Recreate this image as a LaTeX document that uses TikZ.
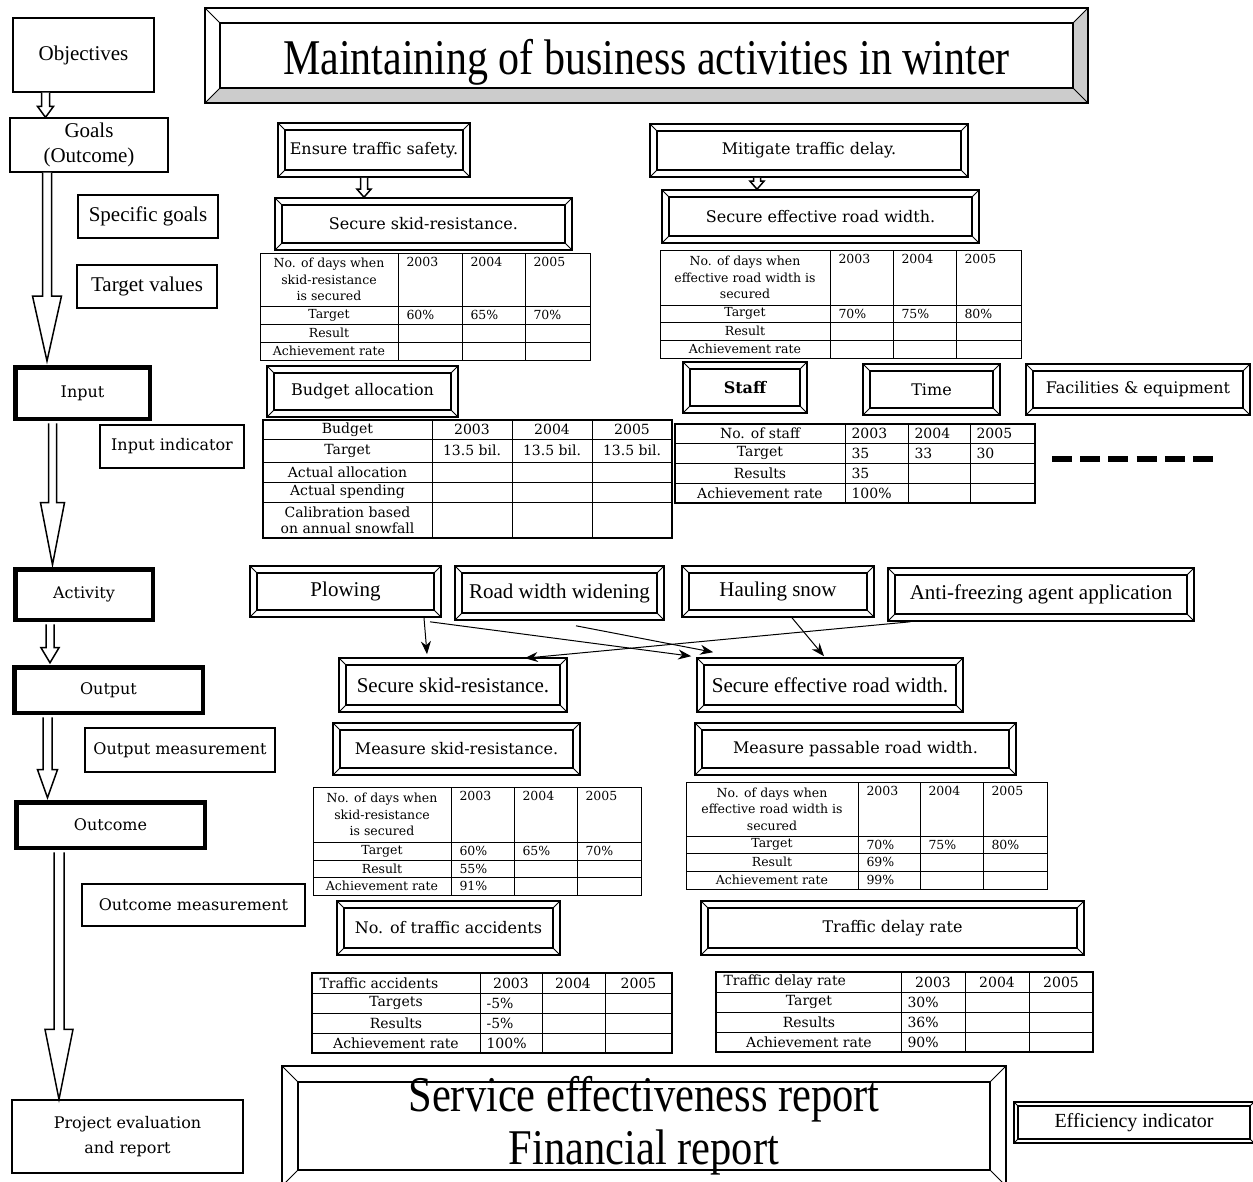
\documentclass[tikz,border=0pt]{standalone}
\usepackage{fontspec}
\setmainfont{Liberation Serif}
\newfontfamily\cent{DejaVu Serif}
\usetikzlibrary{arrows.meta, calc}

\newcommand\tms{\fontsize{21}{25}\selectfont}
\newcommand\cen{\cent\fontsize{16}{25}\selectfont}
\newcommand\tabA{\cent\fontsize{12.5}{16.5}\selectfont}
\newcommand\tabB{\cent\fontsize{14}{16}\selectfont}
\newcommand\bigtitle{\fontsize{50}{50}\selectfont}

% hollow arrow: from, to, shaft half width, head half width, head length
\newcommand\hollowarrow[5]{%
  \draw[line width=1.5pt, fill=white] let \p1=(#1), \p2=(#2) in
    (\x1-#3,\y1) -- (\x1-#3,\y2+#5) -- (\x1-#4,\y2+#5) -- (\x1,\y2)
    -- (\x1+#4,\y2+#5) -- (\x1+#3,\y2+#5) -- (\x1+#3,\y1);}

\tikzset{
  bev/.store in=\bevw, bev=7pt,
  bevfill/.store in=\bevcol, bevfill=white,
  plainbox/.style={draw, line width=1.3pt, inner sep=0pt, align=center},
  thickbox/.style={draw, line width=4.5pt, inner sep=0pt, align=center},
  btn/.style={draw, line width=1.6pt, inner sep=0pt, align=center,
    path picture={
      \path (path picture bounding box.north west) coordinate (pNW)
            (path picture bounding box.north east) coordinate (pNE)
            (path picture bounding box.south west) coordinate (pSW)
            (path picture bounding box.south east) coordinate (pSE);
      \fill[\bevcol] (pSW) -- ([shift={(\bevw,\bevw)}]pSW) -- ([shift={(-\bevw,\bevw)}]pSE)
        -- ([shift={(-\bevw,-\bevw)}]pNE) -- (pNE) -- (pSE) -- cycle;
      \draw[line width=1.2pt] ([shift={(\bevw,-\bevw)}]pNW) rectangle ([shift={(-\bevw,\bevw)}]pSE);
      \draw[line width=0.8pt] (pNW) -- ([shift={(\bevw,-\bevw)}]pNW)
        (pNE) -- ([shift={(-\bevw,-\bevw)}]pNE)
        (pSW) -- ([shift={(\bevw,\bevw)}]pSW)
        (pSE) -- ([shift={(-\bevw,\bevw)}]pSE);
    }},
  link/.style={line width=1pt, -{Stealth[length=13pt, width=10pt]}},
  grid/.style={line width=0.9pt}
}

\begin{document}
\begin{tikzpicture}[x=1pt, y=-1pt]
\useasboundingbox (0,0) rectangle (1253,1181);

% title
\node[btn, bev=15pt, bevfill=gray!40, minimum width=883pt, minimum height=95pt] (title) at (646.5,55.5)
  {\bigtitle\raisebox{-19pt}[0pt][0pt]{\scalebox{0.84}[1]{Maintaining of business activities in winter}}};

% left column
\node[plainbox, minimum width=141pt, minimum height=74pt, font=\tms] (obj) at (83.5,55) {Objectives};
\node[plainbox, minimum width=158pt, minimum height=54pt, font=\tms] (goals) at (89,145) {Goals\\(Outcome)};
\node[plainbox, minimum width=140pt, minimum height=43pt, font=\tms] (specific) at (148,216.5) {Specific goals};
\node[plainbox, minimum width=140pt, minimum height=43pt, font=\tms] (targetv) at (147,286.5) {Target values};
\node[thickbox, minimum width=134.5pt, minimum height=51.5pt, font=\cen] (input) at (82.5,393) {Input};
\node[plainbox, minimum width=144pt, minimum height=43pt, font=\cen] (inputind) at (172,446.5) {Input indicator};
\node[thickbox, minimum width=137.5pt, minimum height=50.5pt, font=\cen] (activity) at (84,594.5) {Activity};
\node[thickbox, minimum width=188.5pt, minimum height=45.5pt, font=\cen] (output) at (108.5,690) {Output};
\node[plainbox, minimum width=190pt, minimum height=44pt, font=\cen] (outputm) at (180,750) {Output measurement};
\node[thickbox, minimum width=188.5pt, minimum height=45.5pt, font=\cen] (outcome) at (110.5,825) {Outcome};
\node[plainbox, minimum width=223pt, minimum height=42pt, font=\cen] (outcomem) at (193.5,905) {Outcome measurement};
\node[plainbox, minimum width=231pt, minimum height=73pt, font=\cen] (project) at (127.5,1136.5) {Project evaluation\\and report};

\hollowarrow{[xshift=-38pt]obj.south}{goals.north}{4pt}{8pt}{11pt}
\hollowarrow{[xshift=-42pt]goals.south}{[yshift=4pt]input.north}{4.5pt}{14.5pt}{65pt}
\hollowarrow{[xshift=-30pt,yshift=-2.3pt]input.south}{[yshift=2.3pt]activity.north}{4pt}{12pt}{62pt}
\hollowarrow{[xshift=-34pt,yshift=-2.3pt]activity.south}{[yshift=2.3pt]output.north}{4pt}{9pt}{15pt}
\hollowarrow{[xshift=-61pt,yshift=-2.3pt]output.south}{[yshift=2.3pt]outcome.north}{4.5pt}{10pt}{28pt}
\hollowarrow{[xshift=-51.5pt,yshift=-2.3pt]outcome.south}{project.north}{5pt}{14pt}{70pt}

% goals
\node[btn, minimum width=192pt, minimum height=54pt, font=\cen] (safety) at (374,150) {Ensure traffic safety.};
\node[btn, minimum width=297pt, minimum height=52pt, font=\cen] (skidgoal) at (423.5,224) {Secure skid-resistance.};
\node[btn, minimum width=318pt, minimum height=53pt, font=\cen] (delay) at (809,150.5) {Mitigate traffic delay.};
\node[btn, minimum width=317pt, minimum height=53pt, font=\cen] (widthgoal) at (820.5,216.5) {Secure effective road width.};
\hollowarrow{[xshift=-10pt]safety.south}{skidgoal.north}{3.5pt}{7pt}{8pt}
\hollowarrow{[xshift=-52pt]delay.south}{widthgoal.north}{3.5pt}{7pt}{8pt}

% table: skid-resistance targets
\begin{scope}[shift={(260,253)}, font=\tabA]
  \draw[grid] (0,0) rectangle (330,107);
  \foreach \y in {53,71,89} \draw[grid] (0,\y) -- (330,\y);
  \foreach \x in {138,202,265} \draw[grid] (\x,0) -- (\x,107);
  \node[align=center] (sg-head) at (69,26.5) {No. of days when\\skid-resistance\\is secured};
  \foreach \lab [count=\i] in {Target,Result,Achievement rate} \node (sg-row\i) at (69,44+18*\i) {\lab};
  \foreach \yr/\xx [count=\i] in {2003/138,2004/202,2005/265} \node[anchor=north west] (sg-yr\i) at (\xx+5,1) {\yr};
  \foreach \v/\xx [count=\i] in {60\%/138,65\%/202,70\%/265} \node[anchor=west] (sg-t\i) at (\xx+5,62) {\v};
\end{scope}

% table: road width targets
\begin{scope}[shift={(660,250)}, font=\tabA]
  \draw[grid] (0,0) rectangle (361,108);
  \foreach \y in {55,72,90} \draw[grid] (0,\y) -- (361,\y);
  \foreach \x in {170,233,296} \draw[grid] (\x,0) -- (\x,108);
  \node[align=center] (wg-head) at (85,27.5) {No. of days when\\effective road width is\\secured};
  \foreach \lab/\yy [count=\i] in {Target/63.5,Result/81,Achievement rate/99} \node (wg-row\i) at (85,\yy) {\lab};
  \foreach \yr/\xx [count=\i] in {2003/170,2004/233,2005/296} \node[anchor=north west] (wg-yr\i) at (\xx+5,1) {\yr};
  \foreach \v/\xx [count=\i] in {70\%/170,75\%/233,80\%/296} \node[anchor=west] (wg-t\i) at (\xx+5,63.5) {\v};
\end{scope}

% input
\node[btn, minimum width=191pt, minimum height=51pt, font=\cen] (budget) at (362.5,391.5) {Budget allocation};
\node[btn, minimum width=124pt, minimum height=51pt, font=\cen\bfseries] (staff) at (745,387.5) {Staff};
\node[btn, minimum width=137pt, minimum height=51pt, font=\cen] (time) at (931.5,389.5) {Time};
\node[btn, minimum width=224pt, minimum height=51pt, font=\cen] (facil) at (1138,389.5) {Facilities \& equipment};

% table: budget
\begin{scope}[shift={(263,420)}, font=\tabB]
  \draw[line width=1.8pt] (0,0) rectangle (409,118);
  \foreach \y in {19,42,62,82} \draw[grid] (0,\y) -- (409,\y);
  \foreach \x in {169,249,329} \draw[grid] (\x,0) -- (\x,118);
  \foreach \lab/\yy [count=\i] in {Budget/9.5,Target/30.5,Actual allocation/52,Actual spending/72}
    \node (bu-row\i) at (84.5,\yy) {\lab};
  \node[align=center, font=\cent\fontsize{14}{16}\selectfont] (bu-row5) at (84.5,100) {Calibration based\\on annual snowfall};
  \foreach \yr/\xx [count=\i] in {2003/209,2004/289,2005/369} {
    \node (bu-yr\i) at (\xx,9.5) {\yr};
    \node (bu-t\i) at (\xx,30.5) {13.5 bil.};
  }
\end{scope}

% table: staff
\begin{scope}[shift={(675,424)}, font=\tabB]
  \draw[line width=1.8pt] (0,0) rectangle (360,79);
  \foreach \y in {19,39,59} \draw[grid] (0,\y) -- (360,\y);
  \foreach \x in {170,233,295} \draw[grid] (\x,0) -- (\x,79);
  \foreach \lab/\yy [count=\i] in {No. of staff/9.5,Target/29,Results/49,Achievement rate/69}
    \node (st-row\i) at (85,\yy) {\lab};
  \foreach \yr/\v/\xx [count=\i] in {2003/35/170,2004/33/233,2005/30/295} {
    \node[anchor=west] (st-yr\i) at (\xx+3,9.5) {\yr};
    \node[anchor=west] (st-t\i) at (\xx+3,29) {\v};
  }
  \node[anchor=west] (st-res) at (173,49) {35};
  \node[anchor=west] (st-ach) at (173,69) {100\%};
\end{scope}
\draw[line width=6pt, dash pattern=on 20pt off 8.2pt] (1052,459) -- (1213,459);

% activities
\node[btn, minimum width=191pt, minimum height=51pt, font=\tms] (plow) at (345.5,591.5) {Plowing};
\node[btn, minimum width=209pt, minimum height=54pt, font=\tms] (widen) at (559.5,593) {Road width widening};
\node[btn, minimum width=192pt, minimum height=51pt, font=\tms] (haul) at (778,591.5) {Hauling snow};
\node[btn, minimum width=306pt, minimum height=53pt, font=\tms] (anti) at (1041,594.5) {Anti-freezing agent application};

% outputs
\node[btn, minimum width=228pt, minimum height=54pt, font=\tms] (skidout) at (453,685) {Secure skid-resistance.};
\node[btn, minimum width=266pt, minimum height=54pt, font=\tms] (widthout) at (830,685) {Secure effective road width.};

\draw[link] ([xshift=78.5pt]plow.south) -- ([xshift=-26pt,yshift=3pt]skidout.north);
\draw[link] ([xshift=84.5pt,yshift=-4pt]plow.south) -- ([xshift=-5pt,yshift=1pt]widthout.north west);
\draw[link] ([xshift=16.5pt,yshift=-5pt]widen.south) -- ([xshift=17pt,yshift=5pt]widthout.north west);
\draw[link] ([xshift=14pt]haul.south) -- ([xshift=-6pt,yshift=1pt]widthout.north);
\draw[link] ([xshift=23pt]anti.south west) -- ([xshift=-43pt,yshift=-1pt]skidout.north east);

% output measurement
\node[btn, minimum width=247pt, minimum height=52pt, font=\cen] (measskid) at (456.5,749) {Measure skid-resistance.};
\node[btn, minimum width=321pt, minimum height=52pt, font=\cen] (measwidth) at (855.5,749) {Measure passable road width.};

% table: skid-resistance results
\begin{scope}[shift={(313,787)}, font=\tabA]
  \draw[grid] (0,0) rectangle (328,108);
  \foreach \y in {55,73,90} \draw[grid] (0,\y) -- (328,\y);
  \foreach \x in {138,201,264} \draw[grid] (\x,0) -- (\x,108);
  \node[align=center] (sr-head) at (69,27.5) {No. of days when\\skid-resistance\\is secured};
  \foreach \lab/\yy [count=\i] in {Target/64,Result/81.5,Achievement rate/99} \node (sr-row\i) at (69,\yy) {\lab};
  \foreach \yr/\xx [count=\i] in {2003/138,2004/201,2005/264} \node[anchor=north west] (sr-yr\i) at (\xx+5,1) {\yr};
  \foreach \v/\xx [count=\i] in {60\%/138,65\%/201,70\%/264} \node[anchor=west] (sr-t\i) at (\xx+5,64) {\v};
  \node[anchor=west] (sr-res) at (143,81.5) {55\%};
  \node[anchor=west] (sr-ach) at (143,99) {91\%};
\end{scope}

% table: road width results
\begin{scope}[shift={(686,782)}, font=\tabA]
  \draw[grid] (0,0) rectangle (361,107);
  \foreach \y in {54,71,89} \draw[grid] (0,\y) -- (361,\y);
  \foreach \x in {172,234,297} \draw[grid] (\x,0) -- (\x,107);
  \node[align=center] (wr-head) at (86,27) {No. of days when\\effective road width is\\secured};
  \foreach \lab/\yy [count=\i] in {Target/62.5,Result/80,Achievement rate/98} \node (wr-row\i) at (86,\yy) {\lab};
  \foreach \yr/\xx [count=\i] in {2003/172,2004/234,2005/297} \node[anchor=north west] (wr-yr\i) at (\xx+5,1) {\yr};
  \foreach \v/\xx [count=\i] in {70\%/172,75\%/234,80\%/297} \node[anchor=west] (wr-t\i) at (\xx+5,62.5) {\v};
  \node[anchor=west] (wr-res) at (177,80) {69\%};
  \node[anchor=west] (wr-ach) at (177,98) {99\%};
\end{scope}

% outcome measurement
\node[btn, minimum width=223pt, minimum height=54pt, font=\cen] (accid) at (448.5,928) {No. of traffic accidents};
\node[btn, minimum width=383pt, minimum height=54pt, font=\cen] (delayrate) at (892.5,928) {Traffic delay rate};

% table: traffic accidents
\begin{scope}[shift={(312,973)}, font=\tabB]
  \draw[line width=1.6pt] (0,0) rectangle (360,80);
  \foreach \y in {20,40,60} \draw[grid] (0,\y) -- (360,\y);
  \foreach \x in {168,230,293} \draw[grid] (\x,0) -- (\x,80);
  \node[anchor=west] (ta-head) at (4,10) {Traffic accidents};
  \foreach \lab/\v [count=\i] in {Targets/-5\%,Results/-5\%,Achievement rate/100\%} {
    \node (ta-row\i) at (84,10+20*\i) {\lab};
    \node[anchor=west] (ta-v\i) at (171,10+20*\i) {\v};
  }
  \foreach \yr/\xx [count=\i] in {2003/199,2004/261,2005/326.5} \node (ta-yr\i) at (\xx,10) {\yr};
\end{scope}

% table: traffic delay rate
\begin{scope}[shift={(716,972)}, font=\tabB]
  \draw[line width=1.6pt] (0,0) rectangle (377,80);
  \foreach \y in {20,40,60} \draw[grid] (0,\y) -- (377,\y);
  \foreach \x in {185,249,313} \draw[grid] (\x,0) -- (\x,80);
  \node[anchor=west] (td-head) at (4,10) {Traffic delay rate};
  \foreach \lab/\v [count=\i] in {Target/30\%,Results/36\%,Achievement rate/90\%} {
    \node (td-row\i) at (93,10+20*\i) {\lab};
    \node[anchor=west] (td-v\i) at (188,10+20*\i) {\v};
  }
  \foreach \yr/\xx [count=\i] in {2003/217,2004/281,2005/345} \node (td-yr\i) at (\xx,10) {\yr};
\end{scope}

% reports
\node[btn, bev=16pt, minimum width=724pt, minimum height=120pt, font=\bigtitle] (report) at (644,1126)
  {\scalebox{0.85}[1]{Service effectiveness report}\\[3pt]\scalebox{0.85}[1]{Financial report}};
\node[btn, bev=4pt, minimum width=240pt, minimum height=41pt, font=\fontsize{20}{24}\selectfont] (effic) at (1134,1122.5) {Efficiency indicator};
\end{tikzpicture}
\end{document}
